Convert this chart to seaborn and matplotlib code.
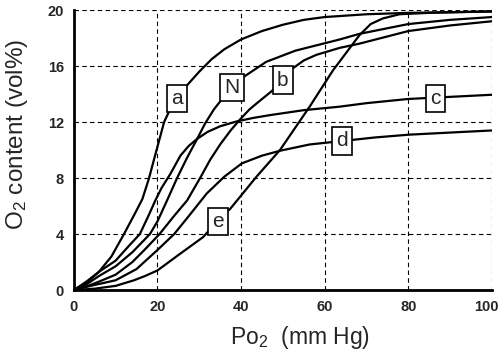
import numpy as np
import pandas as pd
import matplotlib
matplotlib.use("Agg")
import matplotlib.pyplot as plt
import matplotlib.transforms as mtransforms
import seaborn as sns

# curves: Po2 (mm Hg) -> O2 content (vol%)
a_x = [0, 3, 6, 9, 12, 14.5, 16.4, 17.9, 19.7, 21.6, 23, 25, 27, 30, 33, 36, 40, 45, 50, 55, 60, 70, 80, 90, 100]
a_y = [0, 0.5, 1.3, 2.4, 4.0, 5.4, 6.5, 7.9, 9.9, 12.0, 12.9, 13.8, 14.6, 15.6, 16.5, 17.2, 17.9, 18.5, 18.95, 19.3, 19.5, 19.7, 19.8, 19.85, 19.9]

n_x = [0, 3, 6, 10, 14, 18.2, 20, 22.3, 24.7, 27, 29.5, 31.4, 33.5, 35.6, 38, 40.5, 46, 53, 63.6, 68.3, 80, 90, 100]
n_y = [0, 0.4, 1.0, 1.7, 2.7, 4.0, 4.9, 6.4, 8.0, 9.4, 10.8, 11.9, 12.9, 13.7, 14.6, 15.2, 16.3, 17.1, 17.9, 18.3, 19.0, 19.3, 19.5]

b_x = [0, 3, 6, 10, 14, 17, 20.5, 24, 27.1, 30.2, 32.6, 35, 37.5, 39.8, 42, 44, 47.3, 50, 52.2, 55, 58, 63.6, 68.3, 80, 90, 100]
b_y = [0, 0.25, 0.6, 1.1, 2.0, 2.9, 4.0, 5.3, 6.4, 8.0, 9.3, 10.4, 11.4, 12.2, 12.9, 13.4, 14.2, 15.0, 15.8, 16.4, 16.8, 17.3, 17.6, 18.5, 18.9, 19.2]

c_x = [0, 3, 6, 10, 13, 15.8, 18, 19.5, 21, 23.1, 25.5, 27.5, 29.5, 32, 35, 39, 43, 47, 55, 63.6, 70, 80, 90, 100]
c_y = [0, 0.6, 1.3, 2.1, 3.1, 4.0, 5.4, 6.4, 7.3, 8.3, 9.6, 10.3, 10.8, 11.3, 11.7, 12.05, 12.3, 12.5, 12.85, 13.1, 13.35, 13.65, 13.8, 13.95]

d_x = [0, 4, 10, 15, 20, 24, 27, 31.8, 36, 40.2, 45, 49.3, 56.4, 64.3, 72, 80.2, 90, 100]
d_y = [0, 0.3, 0.7, 1.5, 2.86, 4.0, 5.1, 6.9, 8.1, 9.05, 9.6, 9.95, 10.4, 10.65, 10.9, 11.1, 11.25, 11.4]

e_x = [0, 5, 10, 14.4, 17, 20, 25, 31, 35, 37.4, 43.7, 49.3, 56.4, 62, 68.3, 71, 73.9, 77.9, 85, 100]
e_y = [0, 0.1, 0.3, 0.7, 1.0, 1.4, 2.5, 3.8, 5.2, 5.8, 8.1, 10.0, 13.1, 15.7, 18.2, 19.0, 19.4, 19.7, 19.8, 19.9]

# label boxes (name, x, y)
labels = ["a", "N", "b", "c", "d", "e"]
label_x = [24.7, 37.9, 50.0, 86.5, 64.2, 34.4]
label_y = [13.7, 14.45, 15.0, 13.7, 10.65, 4.9]

sns.set_style("white")
plt.rcParams['font.family'] = ['Liberation Sans', 'DejaVu Sans']
plt.rcParams['mathtext.default'] = 'regular'

fig = plt.figure(figsize=(5.02, 3.59), dpi=100)
ax = fig.add_axes([0.147, 0.192, 0.833, 0.78])

curves = [(a_x, a_y), (n_x, n_y), (b_x, b_y), (c_x, c_y), (d_x, d_y), (e_x, e_y)]
for xs, ys in curves:
    sns.lineplot(x=xs, y=ys, ax=ax, color="black", linewidth=1.6, sort=False)

for name, lx, ly in zip(labels, label_x, label_y):
    ax.text(lx, ly, name, ha="center", va="center", fontsize=15, zorder=5,
            bbox=dict(boxstyle="square,pad=0.2", fc="white", ec="black", lw=1.2))

ax.set_xlim(0, 100)
ax.set_ylim(0, 20)
ax.set_xticks([0, 20, 40, 60, 80, 100])
ax.set_yticks([0, 4, 8, 12, 16, 20])
ax.tick_params(length=0, labelsize=10.5, pad=7)
for lab in ax.get_xticklabels() + ax.get_yticklabels():
    lab.set_fontweight("bold")
# nudge the last x label so it stays inside the picture
last = ax.get_xticklabels()[-1]
last.set_transform(last.get_transform() + mtransforms.ScaledTranslation(-4 / 72, 0, fig.dpi_scale_trans))

ax.grid(True, color="black", linestyle=(0, (4, 3)), linewidth=0.8)
for s in ["top", "right"]:
    ax.spines[s].set_visible(False)
for s in ["left", "bottom"]:
    ax.spines[s].set_color("black")
    ax.spines[s].set_linewidth(2)

ax.set_xlabel("Po$_2$  (mm Hg)", fontsize=16.5)
ax.set_ylabel("O$_2$ content (vol%)", fontsize=17.5)
ax.xaxis.set_label_coords(0.542, -0.12)
ax.yaxis.set_label_coords(-0.104, 0.555)

fig.savefig("out.png", dpi=100)
